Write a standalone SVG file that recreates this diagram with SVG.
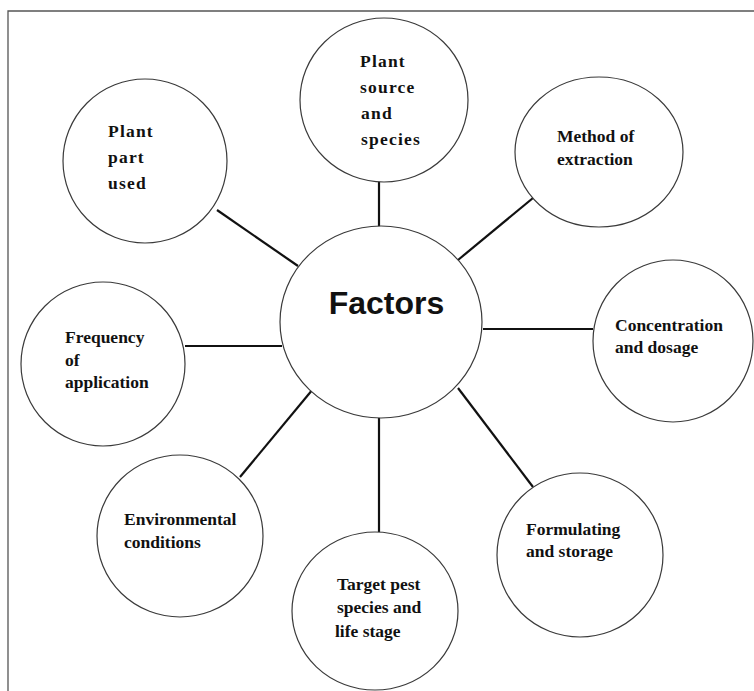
<svg xmlns="http://www.w3.org/2000/svg" width="754" height="691" viewBox="0 0 754 691">
<style>
.node ellipse{fill:#fff;stroke:#3a3a3a;stroke-width:1.2}
.lbl{font-family:"Liberation Serif","Times New Roman",serif;font-weight:bold;font-size:17.5px;fill:#111}
.sp{letter-spacing:1.2px}
.title{font-family:"Liberation Sans",Arial,sans-serif;font-weight:bold;font-size:32px;fill:#111}
#connectors line{stroke:#111;stroke-width:2.2}
.frame{stroke:#555;stroke-width:1.3;fill:none}
</style>
<rect width="754" height="691" fill="#fff"/>
<path class="frame" d="M8 691 V11 H754"/>
<g id="connectors">
<line x1="379" y1="162" x2="379" y2="227"/>
<line x1="217" y1="210" x2="298" y2="266"/>
<line x1="533" y1="198" x2="458" y2="260"/>
<line x1="483" y1="329" x2="593" y2="329"/>
<line x1="185" y1="346" x2="282" y2="346"/>
<line x1="240" y1="477" x2="313" y2="389"/>
<line x1="379" y1="418" x2="379" y2="532"/>
<line x1="458" y1="388" x2="533" y2="487"/>
</g>
<g id="factors" class="node">
<ellipse cx="381" cy="322" rx="101" ry="96"/>
<text class="title" x="386.5" y="314" text-anchor="middle">Factors</text>
</g>
<g id="plant-source" class="node">
<ellipse cx="384" cy="100" rx="84" ry="82"/>
<text class="lbl sp" x="360" y="67">Plant</text>
<text class="lbl sp" x="360" y="93">source</text>
<text class="lbl sp" x="361" y="119">and</text>
<text class="lbl sp" x="361" y="145">species</text>
</g>
<g id="plant-part" class="node">
<ellipse cx="145" cy="161" rx="82" ry="82"/>
<text class="lbl sp" x="108" y="137">Plant</text>
<text class="lbl sp" x="108" y="163">part</text>
<text class="lbl sp" x="108" y="189">used</text>
</g>
<g id="method" class="node">
<ellipse cx="599" cy="152" rx="84" ry="75"/>
<text class="lbl" x="557" y="142">Method of</text>
<text class="lbl" x="557" y="165">extraction</text>
</g>
<g id="concentration" class="node">
<ellipse cx="673" cy="341" rx="80" ry="81"/>
<text class="lbl" x="615" y="331">Concentration</text>
<text class="lbl" x="615" y="353">and dosage</text>
</g>
<g id="frequency" class="node">
<ellipse cx="103" cy="364" rx="82" ry="82"/>
<text class="lbl" x="65" y="343">Frequency</text>
<text class="lbl" x="65" y="366">of</text>
<text class="lbl" x="65" y="388">application</text>
</g>
<g id="environmental" class="node">
<ellipse cx="180" cy="536" rx="83" ry="81"/>
<text class="lbl" x="124" y="525">Environmental</text>
<text class="lbl" x="124" y="548">conditions</text>
</g>
<g id="target" class="node">
<ellipse cx="375" cy="611" rx="83" ry="79"/>
<text class="lbl" x="337" y="590">Target pest</text>
<text class="lbl" x="337" y="613">species and</text>
<text class="lbl" x="335" y="637">life stage</text>
</g>
<g id="formulating" class="node">
<ellipse cx="580" cy="555" rx="83" ry="82"/>
<text class="lbl" x="526" y="535">Formulating</text>
<text class="lbl" x="526" y="557">and storage</text>
</g>
</svg>
